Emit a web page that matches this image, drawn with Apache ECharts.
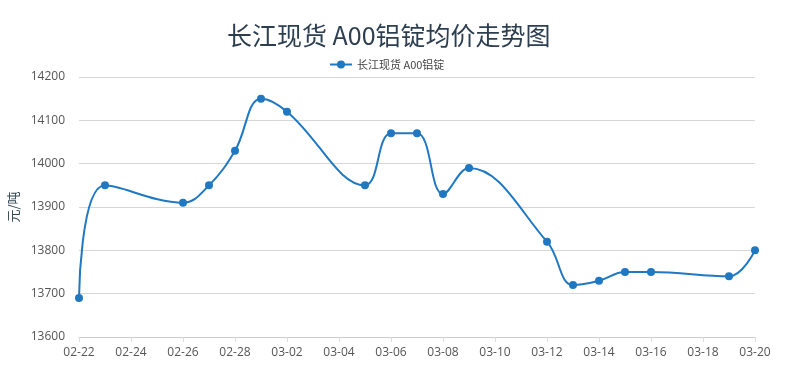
<!DOCTYPE html>
<html>
<head>
<meta charset="utf-8">
<script src="https://cdn.jsdelivr.net/npm/echarts@6/dist/echarts.min.js"></script>
<style>
    html, body { margin: 0; padding: 0; background: #fff; }
    #chart { width: 794px; height: 376px; }
</style>
</head>
<body>
<div id="chart"></div>
<script>
    var dates = ['02-22', '02-23', '02-24', '02-25', '02-26', '02-27', '02-28', '03-01', '03-02', '03-03',
        '03-04', '03-05', '03-06', '03-07', '03-08', '03-09', '03-10', '03-11', '03-12', '03-13',
        '03-14', '03-15', '03-16', '03-17', '03-18', '03-19', '03-20'];
    // 没有报价的日期为 null
    var prices = [13690, 13950, null, null, 13910, 13950, 14030, 14150, 14120, null,
        null, 13950, 14070, 14070, 13930, 13990, null, null, 13820, 13720,
        13730, 13750, 13750, null, null, 13740, 13800];
    var seriesName = '长江现货 A00铝锭';
    var lineColor = '#1f78c1';

    var chart = echarts.init(document.getElementById('chart'));
    var option = {
        title: {
            text: '长江现货 A00铝锭均价走势图',
            left: 222,
            top: 18,
            textStyle: {
                color: '#2c3e50',
                fontSize: 25,
                fontWeight: 'normal',
                fontFamily: 'Noto Sans CJK SC'
            }
        },
        legend: {
            top: 54,
            left: 324,
            itemWidth: 22,
            itemHeight: 10,
            itemGap: 6,
            textStyle: { color: '#444', fontSize: 11, fontFamily: 'Noto Sans CJK SC' },
            data: [seriesName]
        },
        grid: {
            left: 79,
            right: 39,
            top: 77,
            bottom: 39,
            outerBoundsMode: 'none'
        },
        xAxis: {
            type: 'category',
            boundaryGap: false,
            data: dates,
            axisLine: { lineStyle: { color: '#ccc' } },
            axisTick: { show: true, interval: 1, lineStyle: { color: '#ddd' } },
            axisLabel: { interval: 1, color: '#555', fontSize: 12, margin: 10, fontFamily: 'Open Sans' }
        },
        yAxis: {
            type: 'value',
            min: 13600,
            max: 14200,
            interval: 100,
            name: '元/吨',
            nameLocation: 'middle',
            nameGap: 56,
            nameTextStyle: { color: '#2f4554', fontSize: 13, fontFamily: 'Noto Sans CJK SC' },
            axisLine: { show: false },
            axisTick: { show: false },
            axisLabel: {
                color: '#555',
                fontSize: 12,
                margin: 14,
                fontFamily: 'Open Sans',
                formatter: function (v) { return String(v); }
            },
            splitLine: { lineStyle: { color: '#d6d6d6' } }
        },
        series: [{
            name: seriesName,
            type: 'line',
            smooth: 0.4,
            connectNulls: true,
            symbol: 'circle',
            symbolSize: 8,
            data: prices,
            lineStyle: { color: lineColor, width: 2 },
            itemStyle: { color: lineColor }
        }]
    };
    chart.setOption(option);
</script>
</body>
</html>
